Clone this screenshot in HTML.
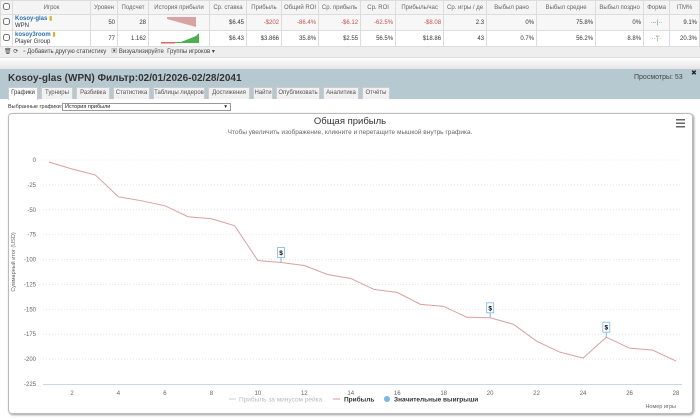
<!DOCTYPE html>
<html><head><meta charset="utf-8">
<style>
*{box-sizing:border-box}
body{margin:0;width:700px;height:418px;overflow:hidden;background:#fff;font-family:"Liberation Sans","Noto Sans CJK SC",sans-serif;position:relative}
.abs{position:absolute}
table.st{position:absolute;left:0;top:0;width:700px;border-collapse:collapse;font-size:6px;color:#333}
table.st td,table.st th{border:1px solid #dcdcdc;padding:0 2px;white-space:nowrap;overflow:hidden}
table.st th{font-weight:normal;color:#666;height:14px;background:#f4f4f4;text-align:center}
table.st td{text-align:right;height:16px}
.neg{color:#c0504d}
.tb{position:absolute;left:0;top:47px;width:700px;height:11px;background:#eee;border-bottom:1px solid #ddd;font-size:6px;color:#444;padding-left:4px;line-height:11px}
.panel{position:absolute;left:0;top:69px;width:700px;height:349px;background:#b7c9d0}
.tabs{position:absolute;left:8px;top:87px;height:12px;font-size:6px}
.tab{position:absolute;top:0;height:12px;background:#f1f1f1;border:1px solid #ccc;border-bottom:none;color:#555;line-height:11px;text-align:center}
.content{position:absolute;left:0;top:99px;width:700px;height:319px;background:#fff}
.chartbox{position:absolute;left:8px;top:113px;width:685px;height:301px;border:1px solid #bbb;border-radius:4px;box-shadow:1px 1px 2px #999}
</style></head><body>
<table class="st">
<tr><th style="width:12px"><input type="checkbox" style="width:7px;height:7px;margin:0"></th><th style="width:78px">Игрок</th><th style="width:27px">Уровен</th><th style="width:31px">Подсчет</th><th style="width:60px">История прибыли</th><th style="width:37px">Ср. ставка</th><th style="width:35px">Прибыль</th><th style="width:35px">Общий ROI</th><th style="width:42px">Ср. прибыль</th><th style="width:35px">Ср. ROI</th><th style="width:48px">Прибыль/час</th><th style="width:43px">Ср. игры / де</th><th style="width:50px">Выбыл рано</th><th style="width:59px">Выбыл средне</th><th style="width:48px">Выбыл поздно</th><th style="width:26px">Форма</th><th>ITM%</th></tr>
<tr style="background:#f7f7f7"><td style="text-align:center"><input type="checkbox" style="width:7px;height:7px;margin:0"></td><td style="text-align:left;line-height:7px"><b style="color:#2a6fb0">Kosoy-glas</b> <span style="color:#d4b32a">▮</span><br>WPN</td><td>50</td><td>28</td><td><svg width="56" height="12"><polygon points="16,1 45,1 45,11 16,3" fill="#d9a3a3"/></svg></td><td>$6.45</td><td class="neg">-$202</td><td class="neg">-86.4%</td><td class="neg">-$6.12</td><td class="neg">-62.5%</td><td class="neg">-$8.08</td><td>2.3</td><td>0%</td><td>75.8%</td><td>0%</td><td style="text-align:center;color:#c33">·-·<span style="color:#3a3">|</span>··</td><td>9.1%</td></tr>
<tr><td style="text-align:center"><input type="checkbox" style="width:7px;height:7px;margin:0"></td><td style="text-align:left;line-height:7px"><b style="color:#2a6fb0">kosoy3room</b> <span style="color:#d4b32a">▮</span><br>Player Group</td><td>77</td><td>1.162</td><td><svg width="56" height="12"><polygon points="10,10 30,10 45,4 48,1 48,11 10,11" fill="#4caf50"/><rect x="10" y="10" width="14" height="1.5" fill="#d66"/></svg></td><td>$6.43</td><td>$3.866</td><td>35.8%</td><td>$2.55</td><td>56.5%</td><td>$18.86</td><td>43</td><td>0.7%</td><td>56.2%</td><td>8.8%</td><td style="text-align:center;color:#c33">··'<span style="color:#3a3">|</span>'·</td><td>20.3%</td></tr>
</table>
<div class="tb">🗑 ⟳ &nbsp; <span>▫ Добавить другую статистику</span> &nbsp; <span>▣ Визуализируйте</span> &nbsp;<span>Группы игроков ▾</span></div>
<div class="abs" style="left:0;top:58px;width:700px;height:11px;background:linear-gradient(#fff,#e4e4e4)"></div>
<div class="panel"></div>
<div class="abs" style="left:8px;top:73px;font-size:10px;font-weight:bold;color:#333">Kosoy-glas (WPN) Фильтр:02/01/2026-02/28/2041</div>
<div class="abs" style="left:634px;top:74px;font-size:7px;color:#444">Просмотры: 53</div>
<div class="abs" style="left:691px;top:69px;font-size:7px;color:#222">✖</div>
<div class="content"></div>
<div class="tabs">
<div class="tab" style="left:0;width:30px;background:#fff;color:#333;height:13px">Графики</div>
<div class="tab" style="left:33px;width:32px">Турниры</div>
<div class="tab" style="left:68px;width:34px">Разбивка</div>
<div class="tab" style="left:105px;width:37px">Статистика</div>
<div class="tab" style="left:145px;width:52px">Таблицы лидеров</div>
<div class="tab" style="left:200px;width:42px">Достижения</div>
<div class="tab" style="left:245px;width:20px">Найти</div>
<div class="tab" style="left:268px;width:44px">Опубликовать</div>
<div class="tab" style="left:315px;width:36px">Аналитика</div>
<div class="tab" style="left:354px;width:28px">Отчёты</div>
</div>
<div class="abs" style="left:8px;top:104px;font-size:5.5px;color:#333">Выбранные графики:</div>
<div class="abs" style="left:62px;top:103px;width:169px;height:8px;border:1px solid #999;font-size:5.5px;line-height:7px;padding-left:2px;color:#222">История прибыли<span style="position:absolute;right:3px;top:0">▾</span></div>
<div class="chartbox"></div>
<svg class="abs" style="left:0;top:0" width="700" height="418" id="chart">
<text x="350" y="124" text-anchor="middle" font-size="9.5" fill="#333" font-family="Liberation Sans, sans-serif">Общая прибыль</text>
<text x="350" y="134" text-anchor="middle" font-size="6.5" fill="#666" font-family="Liberation Sans, sans-serif">Чтобы увеличить изображение, кликните и перетащите мышкой внутрь графика.</text>
<g><rect x="676" y="119" width="9" height="1.5" fill="#666"/><rect x="676" y="122.5" width="9" height="1.5" fill="#666"/><rect x="676" y="126" width="9" height="1.5" fill="#666"/></g>
<text transform="translate(15,262) rotate(-90)" text-anchor="middle" font-size="5.5" fill="#666" font-family="Liberation Sans, sans-serif">Суммарный итог (USD)</text>
<g id="grid"></g><g id="series"></g>
<line x1="43" y1="384.5" x2="682" y2="384.5" stroke="#ccd6eb"/>
<text x="676" y="408" text-anchor="end" font-size="5.5" fill="#666" font-family="Liberation Sans, sans-serif">Номер игры</text>
<g font-family="Liberation Sans, sans-serif" font-size="6.5">
<g><line x1="229" y1="399" x2="236" y2="399" stroke="#ccc"/><text x="239" y="401.5" fill="#bbb">Прибыль за минусом рейка</text></g>
<g><line x1="333" y1="399" x2="340" y2="399" stroke="#d99"/><text x="344" y="401.5" fill="#333" font-weight="bold">Прибыль</text></g>
<g><circle cx="387" cy="399" r="3" fill="#7cb5ec"/><text x="394" y="401.5" fill="#333" font-weight="bold">Значительные выигрыши</text></g>
</g>
</svg>
<script>
const games=[1,2,3,4,5,6,7,8,9,10,11,12,13,14,15,16,17,18,19,20,21,22,23,24,25,26,27,28];
const profit=[-2,-9,-15,-37,-41,-46,-57,-59,-66,-101,-103,-106,-115,-119,-130,-133,-145,-147,-158,-158.5,-165,-182,-193,-199,-178,-189,-191,-202];
const bigWinGames=[11,20,25];
const yTicks=[0,-25,-50,-75,-100,-125,-150,-175,-200,-225];
const xTicks=[2,4,6,8,10,12,14,16,18,20,22,24,26,28];
const NS='http://www.w3.org/2000/svg';
const xS=g=>72+(g-2)*(604/26);
const yS=v=>160-v*(224/225);
const grid=document.getElementById('grid'),ser=document.getElementById('series');
function mk(tag,attrs,parent){const e=document.createElementNS(NS,tag);for(const k in attrs)e.setAttribute(k,attrs[k]);parent.appendChild(e);return e;}
yTicks.forEach(v=>{
 if(v>-225){const l=mk('line',{x1:43,x2:682,y1:yS(v),y2:yS(v),stroke:'#e6e6e6','stroke-dasharray':'1,2'},grid);
 
 }
 const t=mk('text',{x:36,y:yS(v)+2,'text-anchor':'end','font-size':6,fill:'#666','font-family':'Liberation Sans, sans-serif'},grid);
 t.textContent=v;
 
 
});
xTicks.forEach(g=>{
 const t=mk('text',{x:xS(g),y:395,'text-anchor':'middle','font-size':6,fill:'#666','font-family':'Liberation Sans, sans-serif'},grid);
 t.textContent=g;
 
 
});
const pts=games.map((g,i)=>xS(g)+','+yS(profit[i])).join(' ');
const pl=mk('polyline',{points:pts,fill:'none',stroke:'#d9a0a0','stroke-width':1},ser);


bigWinGames.forEach(g=>{
 const i=games.indexOf(g);const x=xS(g),y=yS(profit[i]);
 const grp=mk('g',{},ser);
 
 
 mk('line',{x1:x,x2:x,y1:y-5,y2:y,stroke:'#7cb5ec'},grp);
 mk('rect',{x:x-3.5,y:y-15,width:7,height:10,fill:'#fff',stroke:'#7cb5ec','stroke-width':0.8},grp);
 const t=mk('text',{x:x,y:y-7.5,'text-anchor':'middle','font-size':6.5,'font-weight':'bold',fill:'#000','font-family':'Liberation Sans, sans-serif'},grp);
 t.textContent='$';
});
</script>
</body></html>
